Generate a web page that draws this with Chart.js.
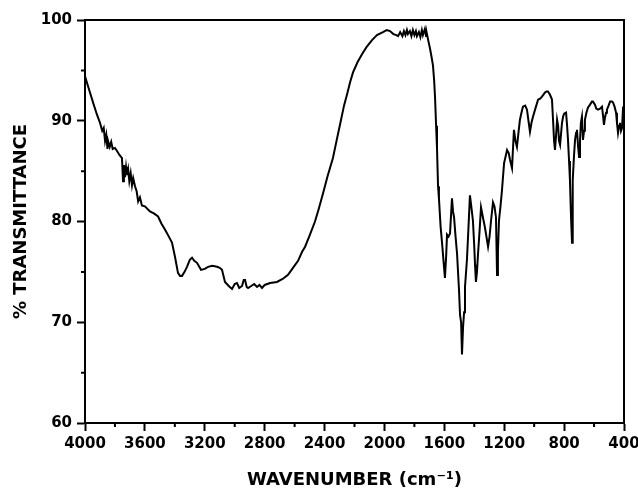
<!DOCTYPE html>
<html>
<head>
<meta charset="utf-8">
<script src="https://cdn.jsdelivr.net/npm/chart.js@4"></script>
<style>
  body { margin: 0; background: #fff; }
  #box { width: 638px; height: 491px; }
</style>
</head>
<body>
<div id="box"><canvas id="grafico"></canvas></div>
<script>
const wavenumbers = [
  4000, 3975, 3946, 3920, 3900, 3885, 3875, 3866, 3858, 3850, 3846, 3835, 3825, 3815, 3800,
  3786, 3770, 3753, 3746, 3740, 3733, 3726, 3720, 3712, 3704, 3695, 3686, 3678, 3666, 3655,
  3645, 3633, 3620, 3600, 3566, 3540, 3512, 3490, 3466, 3440, 3419, 3399, 3379, 3365, 3352,
  3335, 3319, 3300, 3285, 3270, 3252, 3225, 3200, 3178, 3150, 3118, 3100, 3085, 3065, 3040,
  3018, 3000, 2985, 2970, 2951, 2940, 2931, 2920, 2911, 2890, 2870, 2851, 2835, 2818, 2800,
  2764, 2718, 2680, 2644, 2611, 2577, 2550, 2530, 2500, 2464, 2440, 2410, 2380, 2344, 2320,
  2297, 2270, 2250, 2230, 2210, 2180, 2150, 2120, 2083, 2050, 2010, 1985, 1963, 1940, 1920,
  1909, 1895, 1880, 1870, 1860, 1850, 1843, 1830, 1820, 1810, 1800, 1790, 1783, 1770, 1760,
  1750, 1743, 1730, 1722, 1716, 1705, 1696, 1685, 1676, 1668, 1662, 1655, 1649, 1642, 1636,
  1625, 1616, 1605, 1596, 1588, 1582, 1572, 1562, 1549, 1542, 1535, 1525, 1515, 1502, 1495,
  1488, 1482, 1475, 1468, 1462, 1449, 1440, 1429, 1420, 1409, 1400, 1395, 1389, 1382, 1375,
  1365, 1355, 1342, 1330, 1322, 1308, 1298, 1288, 1275, 1265, 1255, 1248, 1242, 1235, 1225,
  1215, 1201, 1190, 1181, 1170, 1161, 1148, 1135, 1125, 1115, 1105, 1095, 1085, 1075, 1060,
  1048, 1038, 1028, 1018, 1008, 990, 974, 960, 948, 938, 928, 918, 908, 895, 881,
  874, 867, 861, 854, 847, 840, 834, 827, 820, 814, 807, 800, 787, 780, 774,
  767, 761, 754, 747, 744, 741, 734, 727, 720, 714, 707, 700, 694, 688, 681,
  674, 667, 661, 651, 641, 627, 614, 607, 594, 585, 574, 560, 547, 540, 534,
  527, 520, 514, 503, 493, 480, 473, 463, 453, 447, 440, 433, 427, 420, 413,
  406, 400
];

const transmittance = [
  94.4, 93.2, 91.8, 90.6, 89.8, 89.0, 89.3, 88.0, 88.6, 87.2, 88.0, 87.4, 87.9, 87.2, 87.3,
  87.0, 86.6, 86.3, 84.0, 85.6, 84.4, 85.4, 84.6, 85.2, 84.0, 84.8, 83.6, 84.3, 83.5, 83.0,
  82.0, 82.4, 81.6, 81.5, 81.0, 80.8, 80.5, 79.8, 79.2, 78.5, 77.9, 76.5, 74.9, 74.6, 74.6,
  75.0, 75.5, 76.2, 76.4, 76.1, 75.9, 75.2, 75.3, 75.5, 75.6, 75.5, 75.4, 75.2, 74.0, 73.6,
  73.3, 73.8, 73.9, 73.4, 73.6, 74.2, 74.2, 73.5, 73.4, 73.6, 73.8, 73.5, 73.7, 73.4, 73.7,
  73.9, 74.0, 74.3, 74.7, 75.4, 76.1, 77.0, 77.5, 78.6, 80.0, 81.2, 82.8, 84.5, 86.3, 88.0,
  89.6, 91.5, 92.6, 93.8, 94.8, 95.8, 96.6, 97.3, 98.0, 98.5, 98.8, 99.0, 98.9, 98.6, 98.5,
  98.4, 98.8, 98.4, 98.9, 98.5, 99.0, 98.6, 98.9, 98.4, 99.0, 98.5, 98.9, 98.4, 98.8, 98.3,
  99.0, 98.5, 99.1, 98.4, 98.6, 97.8, 97.2, 96.3, 95.5, 94.0, 92.3, 89.5, 87.3, 83.5, 82.3,
  79.5, 78.0, 76.0, 74.4, 76.5, 78.7, 78.5, 78.8, 82.3, 81.0, 80.4, 78.5, 76.8, 73.2, 70.7,
  70.0, 66.8, 69.5, 71.0, 73.5, 76.2, 79.0, 82.6, 81.5, 80.1, 77.5, 75.7, 74.0, 75.0, 76.8,
  79.0, 81.4, 80.4, 79.5, 78.8, 77.5, 78.5, 80.1, 81.9, 81.5, 80.4, 74.7, 77.0, 80.1, 81.5,
  83.1, 85.8, 86.5, 87.1, 86.8, 86.1, 85.3, 89.1, 88.0, 87.4, 88.8, 90.1, 90.8, 91.4, 91.5,
  91.1, 90.0, 88.9, 89.8, 90.4, 91.3, 92.1, 92.2, 92.4, 92.6, 92.8, 92.9, 92.9, 92.6, 92.1,
  90.1, 88.0, 87.1, 88.5, 90.1, 89.5, 88.0, 87.6, 88.8, 89.8, 90.4, 90.7, 90.8, 89.5, 88.1,
  86.0, 84.1, 80.5, 77.9, 80.0, 84.1, 86.5, 88.1, 88.8, 89.1, 87.5, 86.4, 88.0, 89.8, 90.4,
  88.1, 89.0, 90.1, 90.8, 91.3, 91.6, 91.9, 91.9, 91.6, 91.2, 91.1, 91.2, 91.4, 90.5, 89.6,
  90.3, 90.8, 91.1, 91.5, 91.9, 91.9, 91.8, 91.4, 90.8, 89.8, 88.8, 89.5, 89.8, 89.0, 89.3,
  91.4, 90.2
];

const xTicks = [4000, 3600, 3200, 2800, 2400, 2000, 1600, 1200, 800, 400];
const xMinor = [3800, 3400, 3000, 2600, 2200, 1800, 1400, 1000, 600];
const yTicks = [60, 70, 80, 90, 100];
const yMinor = [65, 75, 85, 95];

const pontos = wavenumbers.map((w, i) => ({ x: w, y: transmittance[i] }));

const fonteTick = { family: "DejaVu Sans", weight: "bold", size: 15 };
const fonteTitulo = { family: "DejaVu Sans", weight: "bold", size: 18 };

// frame on top/right plus the short minor ticks
const moldura = {
  id: "moldura",
  afterDraw(chart) {
    const c = chart.ctx;
    const a = chart.chartArea;
    const sx = chart.scales.x;
    const sy = chart.scales.y;
    c.save();
    c.strokeStyle = "#000";
    c.lineWidth = 2;
    c.strokeRect(a.left, a.top, a.right - a.left, a.bottom - a.top);
    c.beginPath();
    xMinor.forEach(v => {
      const px = sx.getPixelForValue(v);
      c.moveTo(px, a.bottom);
      c.lineTo(px, a.bottom + 4);
    });
    yMinor.forEach(v => {
      const py = sy.getPixelForValue(v);
      c.moveTo(a.left, py);
      c.lineTo(a.left - 4, py);
    });
    c.stroke();
    c.restore();
  }
};

const grafico = new Chart(document.getElementById("grafico"), {
  type: "line",
  data: {
    datasets: [{
      data: pontos,
      borderColor: "#000",
      borderWidth: 2,
      pointRadius: 0,
      tension: 0
    }]
  },
  options: {
    responsive: true,
    maintainAspectRatio: false,
    animation: false,
    layout: { padding: { top: 20, right: 14, left: 0, bottom: 0 } },
    plugins: {
      legend: { display: false },
      tooltip: { enabled: false }
    },
    scales: {
      x: {
        type: "linear",
        reverse: true,
        min: 400,
        max: 4000,
        afterBuildTicks: s => { s.ticks = xTicks.map(v => ({ value: v })); },
        afterFit: s => { s.height = 68; s.paddingLeft = 0; s.paddingRight = 0; },
        grid: { drawOnChartArea: false, tickLength: 8, tickWidth: 2, tickColor: "#000" },
        border: { display: true, color: "#000", width: 2 },
        ticks: {
          color: "#000",
          font: fonteTick,
          padding: 4,
          maxRotation: 0,
          autoSkip: false,
          callback: v => String(v)
        },
        title: {
          display: true,
          text: "WAVENUMBER (cm⁻¹)",
          color: "#000",
          font: fonteTitulo,
          padding: { top: 0, bottom: 0 }
        }
      },
      y: {
        min: 60,
        max: 100,
        afterBuildTicks: s => { s.ticks = yTicks.map(v => ({ value: v })); },
        afterFit: s => { s.width = 85; s.paddingTop = 0; s.paddingBottom = 0; },
        grid: { drawOnChartArea: false, tickLength: 8, tickWidth: 2, tickColor: "#000" },
        border: { display: true, color: "#000", width: 2 },
        ticks: { color: "#000", font: fonteTick, padding: 5, callback: v => String(v) },
        title: {
          display: true,
          text: "% TRANSMITTANCE",
          color: "#000",
          font: fonteTitulo,
          padding: { top: 11, bottom: 0 }
        }
      }
    }
  },
  plugins: [moldura]
});
</script>
</body>
</html>
